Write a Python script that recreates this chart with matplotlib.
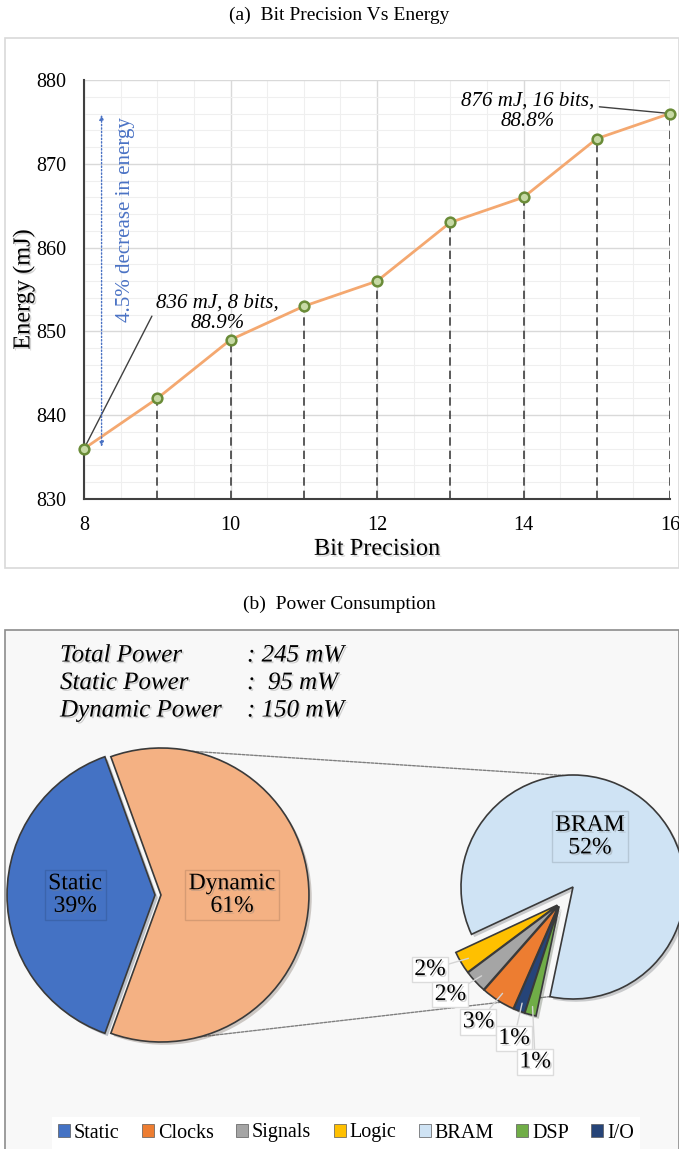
import numpy as np
import matplotlib.pyplot as plt
import matplotlib.patheffects as pe
from matplotlib.patches import Rectangle, ConnectionPatch, Patch
from matplotlib.ticker import MultipleLocator

plt.rcParams['font.family'] = ['Liberation Serif', 'DejaVu Serif']

# (a) energy vs bit precision
bits = [8, 9, 10, 11, 12, 13, 14, 15, 16]
energy = [836, 842, 849, 853, 856, 863, 866, 873, 876]

# (b) power breakdown (% of total power)
main_labels = ['Static', 'Dynamic']
main_share = [39, 61]
sub_labels = ['Logic', 'Signals', 'Clocks', 'I/O', 'DSP', 'BRAM']
sub_share = [2, 2, 3, 1, 1, 52]
power_names = ['Total Power', 'Static Power', 'Dynamic Power']
power_values = [': 245 mW', ':  95 mW', ': 150 mW']
legend_order = ['Static', 'Clocks', 'Signals', 'Logic', 'BRAM', 'DSP', 'I/O']

colors = {'Static': '#4472c4', 'Dynamic': '#f4b183', 'Clocks': '#ed7d31',
          'Signals': '#a5a5a5', 'Logic': '#ffc000', 'BRAM': '#cfe3f4',
          'DSP': '#70ad47', 'I/O': '#264478'}

W, H = 679, 1149
fig = plt.figure(figsize=(W / 100, H / 100), dpi=100)


def box(x0, y0, x1, y1):
    # pixel box (top-left origin) -> figure fraction rect
    return [x0 / W, 1 - y1 / H, (x1 - x0) / W, (y1 - y0) / H]


txt_shadow = [pe.SimplePatchShadow(offset=(1.2, -1.2), shadow_rgbFace='#808080', alpha=0.35), pe.Normal()]

# panel frames
fig.add_artist(Rectangle((5 / W, 1 - 568 / H), 674 / W, 530 / H, transform=fig.transFigure,
                         fc='white', ec='#d9d9d9', lw=1.2, zorder=-5))
fig.add_artist(Rectangle((5 / W, -0.01), 674 / W, 0.01 + 519 / H, transform=fig.transFigure,
                         fc='#f8f8f8', ec='#8c8c8c', lw=1.2, zorder=-5))
fig.text(0.5, 1 - 15 / H, '(a)  Bit Precision Vs Energy', ha='center', va='center', fontsize=14)
fig.text(0.5, 1 - 604 / H, '(b)  Power Consumption', ha='center', va='center', fontsize=14)

# ---------- (a) line chart ----------
ax = fig.add_axes(box(84, 80, 670, 499))
ax.set_facecolor('none')
ax.vlines(bits, 830, energy, colors='#404040', linestyles=(0, (5, 3)), lw=1.2, zorder=2)
ax.plot(bits, energy, color='#f4a870', lw=2, zorder=3)
ax.plot(bits, energy, 'o', ms=7, mfc='#c6d9a4', mec='#6a8c38', mew=1.8, zorder=4, clip_on=False)
ax.set_xlim(8, 16)
ax.set_ylim(830, 880)
ax.xaxis.set_major_locator(MultipleLocator(2))
ax.xaxis.set_minor_locator(MultipleLocator(0.5))
ax.yaxis.set_major_locator(MultipleLocator(10))
ax.yaxis.set_minor_locator(MultipleLocator(2))
ax.grid(which='major', color='#d9d9d9', lw=1)
ax.grid(which='minor', color='#efefef', lw=0.8)
ax.set_axisbelow(True)
ax.tick_params(which='both', length=0)
ax.tick_params(axis='x', labelsize=14.5, pad=12)
ax.tick_params(axis='y', labelsize=14.5, pad=13)
for s in ['top', 'right']:
    ax.spines[s].set_visible(False)
for s in ['left', 'bottom']:
    ax.spines[s].set_color('#404040')
    ax.spines[s].set_linewidth(1.5)
ax.set_xlabel('Bit Precision', fontsize=17.5, labelpad=3, path_effects=txt_shadow)
ax.set_ylabel('Energy (mJ)', fontsize=17.5, labelpad=1, path_effects=txt_shadow)

ax.annotate('836 mJ, 8 bits,\n88.9%', xy=(bits[0], energy[0]), xytext=(9.82, 852.2),
            ha='center', va='center', fontsize=15, style='italic', linespacing=1.1,
            arrowprops=dict(arrowstyle='-', color='#404040', lw=1, relpos=(0, 0.62),
                            shrinkA=2, shrinkB=0), annotation_clip=False)
ax.annotate('876 mJ, 16 bits,\n88.8%', xy=(bits[-1], energy[-1]), xytext=(14.05, 876.3),
            ha='center', va='center', fontsize=15, style='italic', linespacing=1.1,
            arrowprops=dict(arrowstyle='-', color='#404040', lw=1, relpos=(1, 0.62),
                            shrinkA=2, shrinkB=0), annotation_clip=False)
ax.annotate('', xy=(8.24, 875.9), xytext=(8.24, 836.2),
            arrowprops=dict(arrowstyle='<|-|>,head_length=0.3,head_width=0.12', color='#4a72c4',
                            lw=1, linestyle=(0, (1, 1.5)), shrinkA=0, shrinkB=0))
ax.text(8.57, 863.4, '4.5% decrease in energy', rotation=90, ha='center', va='center',
        fontsize=15, color='#4a72c4')

# ---------- (b) pie of pie ----------
for i, (name, val) in enumerate(zip(power_names, power_values)):
    y = 1 - (655.5 + 27.5 * i) / H
    fig.text(60 / W, y, name, ha='left', va='center', fontsize=18, style='italic', path_effects=txt_shadow)
    fig.text(247 / W, y, val, ha='left', va='center', fontsize=18, style='italic', path_effects=txt_shadow)

shadow = [pe.SimplePatchShadow(offset=(2, -2), alpha=0.25), pe.Normal()]
lbl_box = dict(boxstyle='square,pad=0.15', fc='none', ec=(0, 0, 0, 0.12), lw=1)

# main pie: center (158, 895) px, rx 148, ry 147
ax_big = fig.add_axes(box(158 - 1.2 * 148, 895 - 1.2 * 147, 158 + 1.2 * 148, 895 + 1.2 * 147))
wb, _ = ax_big.pie(main_share, colors=[colors[k] for k in main_labels], startangle=180 - 1.8 * main_share[0],
                   explode=[0.02, 0.02], wedgeprops=dict(edgecolor='#3a3a3a', lw=1.2))
for w in wb:
    w.set_path_effects(shadow)
ax_big.set_aspect('auto')
ax_big.set_xlim(-1.2, 1.2)
ax_big.set_ylim(-1.2, 1.2)
for w, name, val, r in zip(wb, main_labels, main_share, [0.56, 0.5]):
    t = np.deg2rad((w.theta1 + w.theta2) / 2)
    ax_big.text(r * np.cos(t), r * np.sin(t), f'{name}\n{val}%', ha='center', va='center',
                fontsize=17, linespacing=1.1, bbox=lbl_box, path_effects=txt_shadow)

# secondary pie: center (573, 887) px, r 112
ax_small = fig.add_axes(box(573 - 1.2 * 112, 887 - 1.2 * 112, 573 + 1.2 * 112, 887 + 1.2 * 112))
ws, _ = ax_small.pie(sub_share, colors=[colors[k] for k in sub_labels], startangle=205,
                     wedgeprops=dict(edgecolor='#3a3a3a', lw=1.2))
ax_small.set_aspect('auto')
ax_small.set_xlim(-1.2, 1.2)
ax_small.set_ylim(-1.2, 1.2)
# pull the small slices out together as one group, with a hair of space between them
gm = np.deg2rad((ws[0].theta1 + ws[-2].theta2) / 2)
gc = (0.19 * np.cos(gm), 0.19 * np.sin(gm))
for w in ws[:-1]:
    tm = np.deg2rad((w.theta1 + w.theta2) / 2)
    w.set_center((gc[0] + 0.025 * np.cos(tm), gc[1] + 0.025 * np.sin(tm)))
for w in ws:
    w.set_path_effects(shadow)

label_r = [1.30, 1.27, 1.28, 1.27, 1.43]
label_da = [-4, -3, -2, 2, 6]
for w, val, r, da in zip(ws[:-1], sub_share[:-1], label_r, label_da):
    tm = np.deg2rad((w.theta1 + w.theta2) / 2)
    t = tm + np.deg2rad(da)
    ax_small.annotate(f'{val}%', xy=(gc[0] + 0.95 * np.cos(tm), gc[1] + 0.95 * np.sin(tm)),
                      xytext=(gc[0] + r * np.cos(t), gc[1] + r * np.sin(t)),
                      ha='center', va='center', fontsize=17, path_effects=txt_shadow,
                      bbox=dict(boxstyle='square,pad=0.1', fc='white', ec='#dcdcdc', lw=1),
                      arrowprops=dict(arrowstyle='-', color='#d4d4d4', lw=1, shrinkA=0, shrinkB=0))
ax_small.text(0.15, 0.45, f'{sub_labels[-1]}\n{sub_share[-1]}%', ha='center', va='center',
              fontsize=17, linespacing=1.1, bbox=lbl_box, path_effects=txt_shadow)

# connector lines between the pies
tb = np.deg2rad(wb[1].theta2 - 360 - 32)
tl = np.deg2rad(wb[1].theta1 + 35)
t_top = np.deg2rad(95)
t_bot = np.deg2rad(ws[-1].theta1)
for a, b in [((0.02 + np.cos(tb), np.sin(tb)), (np.cos(t_top), np.sin(t_top))),
             ((0.02 + np.cos(tl), np.sin(tl)), (np.cos(t_bot), np.sin(t_bot)))]:
    con = ConnectionPatch(xyA=a, coordsA=ax_big.transData, xyB=b, coordsB=ax_small.transData,
                          color='#7f7f7f', lw=1, linestyle=(0, (2, 1)), zorder=-1)
    fig.add_artist(con)

handles = [Patch(fc=colors[k], ec='#595959', lw=0.5) for k in legend_order]
fig.legend(handles, legend_order, loc='center', bbox_to_anchor=(346 / W, 1 - 1133 / H), ncol=7,
           fontsize=14.5, frameon=True, fancybox=False, edgecolor='none', facecolor='white',
           framealpha=1, handlelength=0.6, handleheight=0.6, handletextpad=0.2,
           columnspacing=1.1, borderpad=0.3)

fig.savefig('out.png', dpi=100)
